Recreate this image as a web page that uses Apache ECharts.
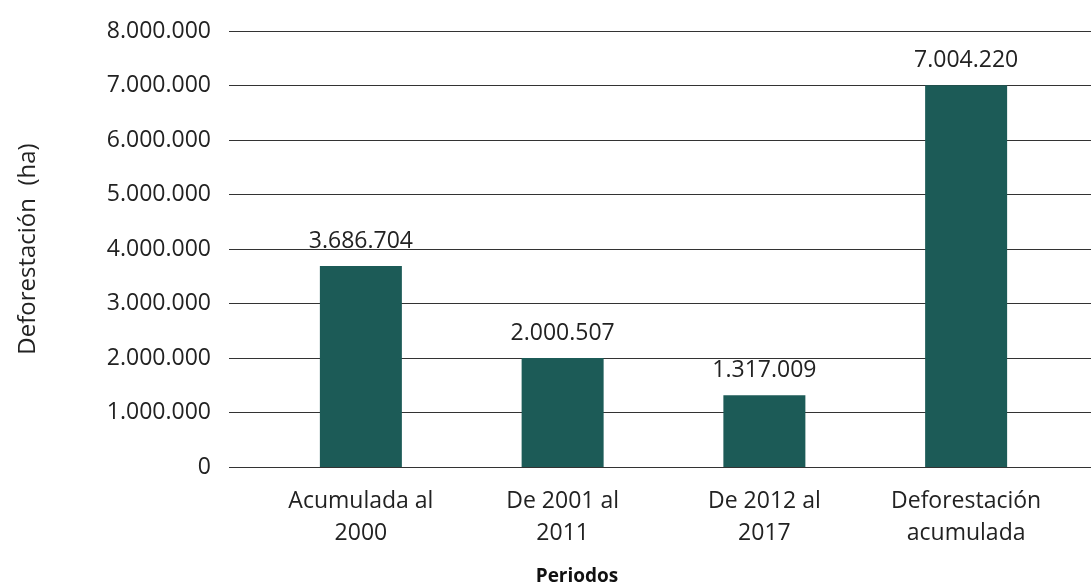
<!DOCTYPE html>
<html>
<head>
<meta charset="utf-8">
<script src="https://cdn.jsdelivr.net/npm/echarts@6/dist/echarts.min.js"></script>
<style>
  html, body { margin: 0; padding: 0; background: #fff; }
  #chart { width: 1091px; height: 587px; }
</style>
</head>
<body>
<div id="chart"></div>
<script>
var periodos = ['Acumulada al\n2000', 'De 2001 al\n2011', 'De 2012 al\n2017', 'Deforestación\nacumulada']
var hectareas = [3686704, 2000507, 1317009, 7004220]
var yMin = 0
var yMax = 8000000
var yStep = 1000000

var fontFam = '"Open Sans", Lato, sans-serif'

function miles(v) {
  return String(Math.round(v)).replace(/\B(?=(\d{3})+(?!\d))/g, '.')
}

var chart = echarts.init(document.getElementById('chart'))
chart.setOption({
  animation: false,
  textStyle: { fontFamily: fontFam },
  grid: [
    // grid 0 only carries the y labels and horizontal lines (full width)
    { left: 229, right: 0, top: 31, bottom: 120 },
    // grid 1 carries the bars
    { left: 260, right: 24, top: 31, bottom: 120 }
  ],
  xAxis: [
    { gridIndex: 0, type: 'value', show: false, min: 0, max: 1 },
    {
      gridIndex: 1,
      type: 'category',
      data: periodos,
      axisLine: { show: false },
      axisTick: { show: false },
      axisLabel: {
        color: '#222',
        fontSize: 23,
        lineHeight: 32,
        margin: 18,
        fontFamily: fontFam
      }
    }
  ],
  yAxis: [
    {
      gridIndex: 0,
      type: 'value',
      min: yMin,
      max: yMax,
      interval: yStep,
      name: 'Deforestación  (ha)',
      nameLocation: 'middle',
      nameGap: 189,
      nameTextStyle: { color: '#222', fontSize: 24, fontFamily: fontFam },
      axisLine: { show: false },
      axisTick: { show: false },
      axisLabel: {
        color: '#222',
        fontSize: 23,
        margin: 18,
        fontFamily: fontFam,
        formatter: miles
      },
      splitLine: { lineStyle: { color: '#333', width: 1 } }
    },
    {
      gridIndex: 1,
      type: 'value',
      min: yMin,
      max: yMax,
      interval: yStep,
      show: false,
      splitLine: { show: false }
    }
  ],
  series: [{
    type: 'bar',
    xAxisIndex: 1,
    yAxisIndex: 1,
    data: hectareas,
    barWidth: 82,
    itemStyle: { color: '#1c5b57' },
    label: {
      show: true,
      position: 'top',
      distance: 13,
      color: '#222',
      fontSize: 23,
      fontFamily: fontFam,
      formatter: function (p) { return miles(p.value) }
    }
  }],
  graphic: [{
    type: 'text',
    x: 577,
    y: 577,
    style: {
      text: 'Periodos',
      fill: '#111',
      font: 'bold 19px ' + fontFam,
      textAlign: 'center',
      textVerticalAlign: 'middle'
    }
  }]
})
</script>
</body>
</html>
